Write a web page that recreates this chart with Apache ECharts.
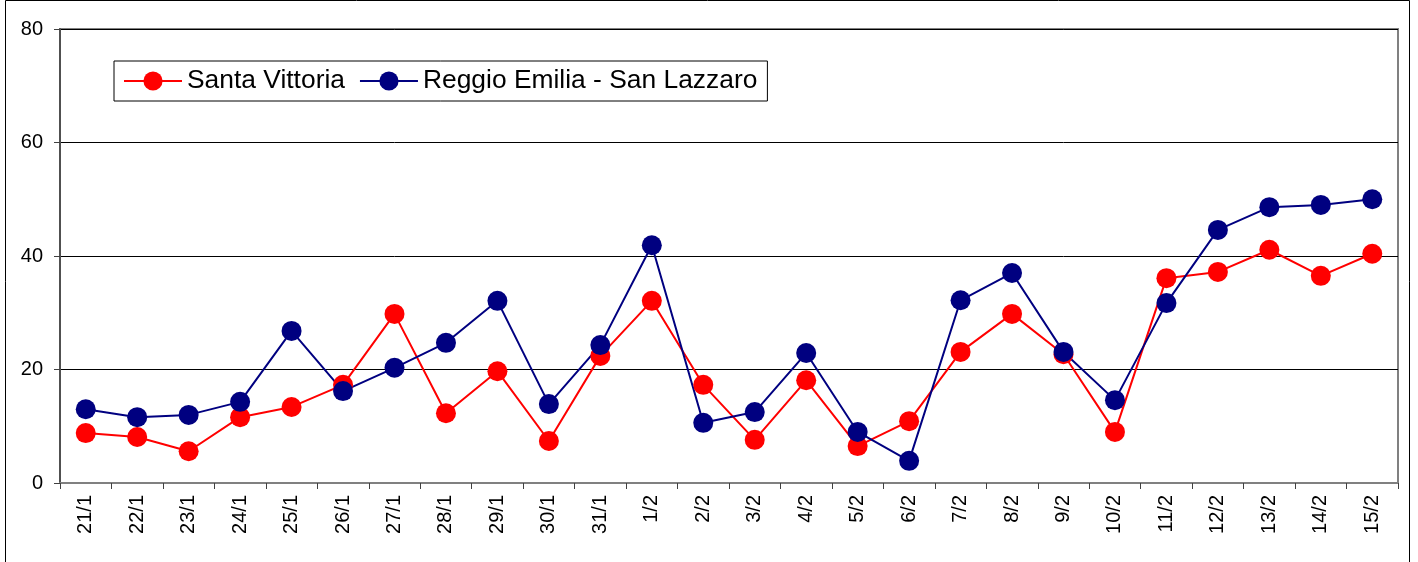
<!DOCTYPE html>
<html>
<head>
<meta charset="utf-8">
<script src="https://cdn.jsdelivr.net/npm/echarts@6/dist/echarts.min.js"></script>
<style>
html,body{margin:0;padding:0;background:#fff;}
#chart{width:1418px;height:562px;}
</style>
</head>
<body>
<div id="chart"></div>
<script>
const categories = ['21/1','22/1','23/1','24/1','25/1','26/1','27/1','28/1','29/1','30/1','31/1','1/2','2/2','3/2','4/2','5/2','6/2','7/2','8/2','9/2','10/2','11/2','12/2','13/2','14/2','15/2'];
const santaVittoria = [8.8,8.1,5.6,11.6,13.4,17.3,29.8,12.3,19.7,7.4,22.4,32.1,17.3,7.6,18.1,6.5,10.9,23.1,29.8,22.7,9.0,36.1,37.2,41.1,36.5,40.4];
const reggioEmilia = [13.0,11.6,12.0,14.3,26.8,16.2,20.3,24.7,32.1,13.9,24.3,41.9,10.6,12.5,22.9,9.0,3.9,32.2,37.0,23.1,14.6,31.7,44.6,48.6,49.0,50.0];
const seriesNames = ['Santa Vittoria','Reggio Emilia - San Lazzaro'];

const chart = echarts.init(document.getElementById('chart'), null, {renderer:'canvas'});
const font = 'Liberation Sans, Arial, sans-serif';
chart.setOption({
  animation:false,
  backgroundColor:'#fff',
  textStyle:{fontFamily:font},
  graphic:[{type:'rect', silent:true, z:100,
    shape:{x:5.5,y:0.5,width:1404,height:600},
    style:{fill:'none',stroke:'#000',lineWidth:1}}],
  grid:{left:60,right:20,top:29,bottom:79,show:true,borderColor:'#808080',borderWidth:2,backgroundColor:'#fff'},
  legend:{
    left:114, top:61,
    padding:[7,10,7,9],
    borderColor:'#000', borderWidth:1, backgroundColor:'#fff',
    itemWidth:58, itemHeight:24, itemGap:14,
    textStyle:{fontSize:26.4,color:'#000',fontFamily:font},
    data:seriesNames
  },
  xAxis:{
    type:'category', data:categories, boundaryGap:true,
    axisLine:{lineStyle:{color:'#808080',width:2}},
    axisTick:{show:true,length:6,lineStyle:{color:'#404040',width:1}},
    axisLabel:{rotate:90,fontSize:20,color:'#000',margin:12,fontFamily:font,interval:0},
    splitLine:{show:false}
  },
  yAxis:{
    type:'value', min:0, max:80, interval:20,
    axisLine:{show:true,lineStyle:{color:'#505050',width:2}},
    axisTick:{show:true,length:6,lineStyle:{color:'#404040',width:1}},
    axisLabel:{fontSize:20,color:'#000',margin:17,fontFamily:font},
    splitLine:{show:true,lineStyle:{color:'#000',width:1}}
  },
  series:[
    {name:seriesNames[0],type:'line',data:santaVittoria,symbol:'circle',symbolSize:20,
     lineStyle:{color:'#FF0000',width:2},itemStyle:{color:'#FF0000',borderWidth:0}},
    {name:seriesNames[1],type:'line',data:reggioEmilia,symbol:'circle',symbolSize:20,
     lineStyle:{color:'#000080',width:2},itemStyle:{color:'#000080',borderWidth:0}}
  ]
});
</script>
</body>
</html>
